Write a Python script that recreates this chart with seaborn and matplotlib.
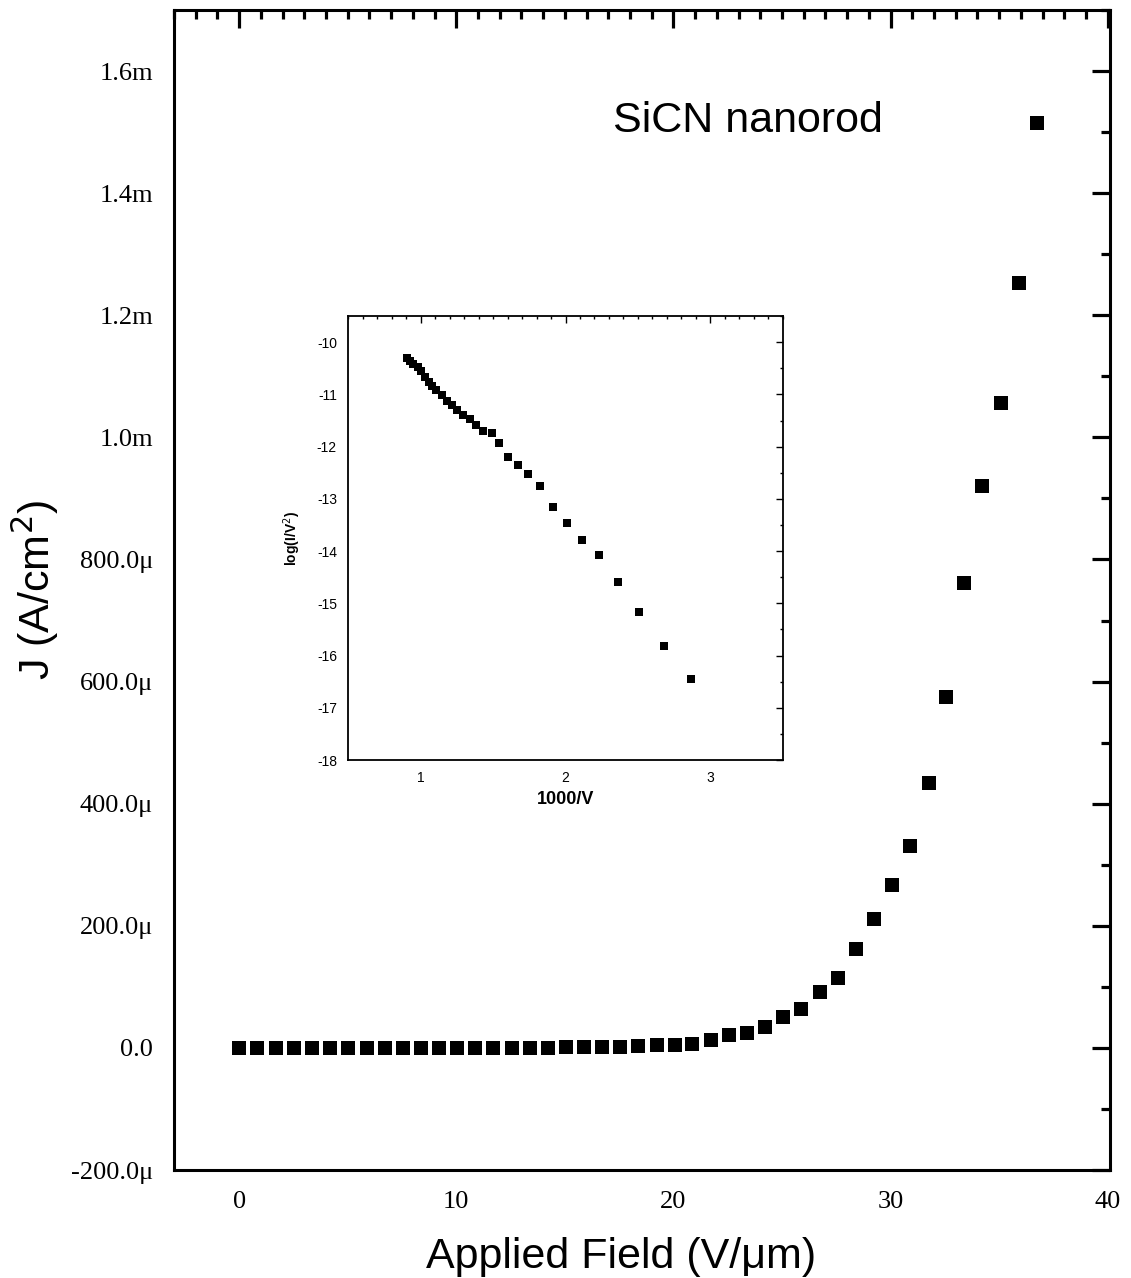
import numpy as np
import pandas as pd
import matplotlib.pyplot as plt
import seaborn as sns
from matplotlib.ticker import MultipleLocator

# ===== DATA =====
# main plot: applied field (V/um) vs current density
field = [0.00, 0.83, 1.70, 2.53, 3.36, 4.18, 5.01, 5.89, 6.71, 7.54,
         8.37, 9.20, 10.02, 10.85, 11.68, 12.55, 13.38, 14.21, 15.03, 15.86,
         16.69, 17.56, 18.39, 19.22, 20.05, 20.87, 21.75, 22.57, 23.40, 24.23,
         25.06, 25.89, 26.76, 27.59, 28.41, 29.24, 30.07, 30.90, 31.77, 32.55,
         33.38, 34.21, 35.08, 35.91, 36.74]
# in mA/cm^2 (scaled to A/cm^2 below)
current_mA = [0.000, 0.000, 0.000, 0.000, 0.000, 0.000, 0.000, 0.000, 0.000, 0.000,
              0.000, 0.000, 0.000, 0.000, 0.000, 0.000, 0.000, 0.000, 0.001, 0.001,
              0.002, 0.002, 0.003, 0.005, 0.005, 0.007, 0.013, 0.021, 0.025, 0.034,
              0.051, 0.064, 0.092, 0.115, 0.162, 0.211, 0.267, 0.331, 0.434, 0.574,
              0.761, 0.920, 1.057, 1.252, 1.515]

# inset: Fowler-Nordheim plot
inv_v = [0.91, 0.93, 0.95, 0.98, 1.00, 1.03, 1.06, 1.08, 1.11, 1.15,
         1.18, 1.22, 1.25, 1.29, 1.34, 1.38, 1.43, 1.49, 1.543, 1.605,
         1.672, 1.744, 1.824, 1.912, 2.009, 2.113, 2.233, 2.363, 2.508, 2.679,
         2.868]
log_iv2 = [-10.30, -10.36, -10.42, -10.48, -10.56, -10.66, -10.76, -10.84, -10.92, -11.02,
           -11.12, -11.21, -11.30, -11.40, -11.48, -11.58, -11.70, -11.74, -11.94, -12.20,
           -12.36, -12.52, -12.76, -13.16, -13.46, -13.78, -14.08, -14.60, -15.17, -15.81,
           -16.44]

y_ticks = [-200e-6, 0, 200e-6, 400e-6, 600e-6, 800e-6, 1.0e-3, 1.2e-3, 1.4e-3, 1.6e-3]
y_tick_labels = ["-200.0\u03bc", "0.0", "200.0\u03bc", "400.0\u03bc", "600.0\u03bc",
                 "800.0\u03bc", "1.0m", "1.2m", "1.4m", "1.6m"]
x_ticks = [0, 10, 20, 30, 40]
inset_y_ticks = [-18, -17, -16, -15, -14, -13, -12, -11, -10]


def style_axis(ax, major_len, minor_len, width, spine_w):
    for s in ax.spines.values():
        s.set_linewidth(spine_w)
        s.set_color("black")
    ax.tick_params(which="both", direction="in", top=True, right=True,
                   colors="black", width=width)
    ax.tick_params(which="major", length=major_len)
    ax.tick_params(which="minor", length=minor_len)


def plot_results():
    sns.set_theme(style="white")
    plt.rcParams["font.family"] = ["Liberation Sans", "DejaVu Sans"]
    plt.rcParams["text.color"] = "black"
    plt.rcParams["axes.labelcolor"] = "black"
    plt.rcParams["axes.unicode_minus"] = False

    df = pd.DataFrame({"field": field, "J": np.array(current_mA) * 1e-3})
    df_fn = pd.DataFrame({"inv_v": inv_v, "log": log_iv2})

    fig = plt.figure(figsize=(11.31, 12.78), dpi=100)
    ax = fig.add_axes([0.1538, 0.0845, 0.8276, 0.9077])

    sns.scatterplot(data=df, x="field", y="J", marker="s", s=88, color="black",
                    linewidth=0, ax=ax, legend=False)

    ax.set_xlim(-3, 40.1)
    ax.set_ylim(-200e-6, 1.7e-3)
    ax.set_xticks(x_ticks)
    ax.set_xticklabels([str(t) for t in x_ticks], family="Liberation Serif", fontsize=19)
    ax.set_yticks(y_ticks)
    ax.set_yticklabels(y_tick_labels, family="Liberation Serif", fontsize=19)
    ax.xaxis.set_minor_locator(MultipleLocator(1))
    ax.yaxis.set_minor_locator(MultipleLocator(100e-6))
    style_axis(ax, 13, 6.5, 2.3, 2.2)
    ax.tick_params(which="major", pad=15)

    ax.set_xlabel("Applied Field (V/\u03bcm)", fontsize=31)
    ax.xaxis.set_label_coords(0.478, -0.058)
    ax.set_ylabel("J (A/cm$^2$)", fontsize=31)
    ax.yaxis.set_label_coords(-0.121, 0.5)

    ax.text(0.469, 0.904, "SiCN nanorod", transform=ax.transAxes, fontsize=31,
            ha="left", va="center")

    # --- INSET ---
    axi = fig.add_axes([0.3077, 0.4053, 0.3846, 0.3474])
    sns.scatterplot(data=df_fn, x="inv_v", y="log", marker="s", s=33, color="black",
                    linewidth=0, ax=axi, legend=False)
    axi.set_xlim(0.5, 3.5)
    axi.set_ylim(-18, -9.5)
    axi.set_xticks([1, 2, 3])
    axi.set_yticks(inset_y_ticks)
    axi.xaxis.set_minor_locator(MultipleLocator(0.1))
    axi.yaxis.set_minor_locator(MultipleLocator(0.5))
    style_axis(axi, 5, 2.5, 1.0, 1.3)
    axi.tick_params(labelsize=10, pad=8)
    axi.set_xlabel("1000/V", fontsize=13, fontweight="bold", labelpad=4)
    axi.set_ylabel("log(I/V$^2$)", fontsize=10, fontweight="bold", labelpad=10)

    plt.savefig("out.png", dpi=100)


if __name__ == "__main__":
    plot_results()
